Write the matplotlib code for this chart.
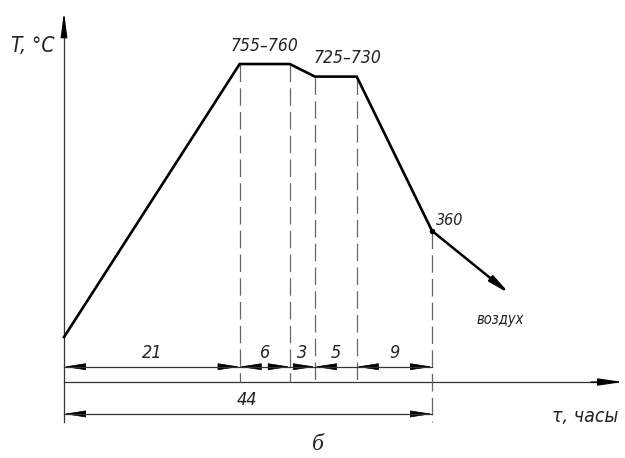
import matplotlib
matplotlib.use("Agg")
import matplotlib.pyplot as plt
from matplotlib.patches import FancyArrowPatch

# режим термообработки: время (ч) и температура (°C)
hours = [0, 21, 27, 30, 35, 44]
temps = [107, 757.5, 757.5, 727.5, 727.5, 360]
air_end = (53.3, 210)          # охлаждение на воздухе
stage_labels = ["21", "6", "3", "5", "9"]
stage_arrows = [(True, True), (True, True), (False, True), (True, False), (True, True)]
total_label = "44"
temp_labels = ["755–760", "725–730", "360"]

FONT = dict(family="DejaVu Sans", style="italic", fontstretch="condensed",
            fontweight="light", color="#222222")

fig = plt.figure(figsize=(6.25, 4.58), dpi=100)
ax = fig.add_axes([0, 0, 1, 1])
ax.set_xlim(-7.65, 67.07)
ax.set_ylim(-181, 910)
ax.axis("off")

thin = dict(color="#333333", lw=0.9)
dim_y, total_y, ext_bottom = 36.4, -76, -95


def head(x_tip, y, direction):
    # стрелка размерной линии
    L = 2.4
    p = FancyArrowPatch((x_tip - direction * L, y), (x_tip, y),
                        arrowstyle="-|>,head_length=14,head_width=2.2",
                        mutation_scale=1, color="black", lw=0.5,
                        shrinkA=0, shrinkB=0)
    ax.add_patch(p)


# оси
ax.plot([0, 0], [ext_bottom, 860], **thin)
ax.annotate("", xy=(0, 881), xytext=(0, 850),
            arrowprops=dict(arrowstyle="-|>,head_length=1.5,head_width=0.2",
                            color="black", lw=0.9, shrinkA=0, shrinkB=0))
ax.plot([0, 64], [0, 0], **thin)
ax.annotate("", xy=(66.8, 0), xytext=(63, 0),
            arrowprops=dict(arrowstyle="-|>,head_length=1.5,head_width=0.22",
                            color="black", lw=0.9, shrinkA=0, shrinkB=0))

# выносные линии
for h, t in zip(hours[1:], temps[1:]):
    bottom = ext_bottom if h == hours[-1] else 0
    ax.plot([h, h], [t, bottom], color="#666666", lw=0.9,
            dashes=(14, 5))

# кривая режима
ax.plot(hours, temps, color="black", lw=1.9, solid_joinstyle="miter")
ax.annotate("", xy=air_end, xytext=(hours[-1], temps[-1]),
            arrowprops=dict(arrowstyle="-|>,head_length=1.2,head_width=0.2",
                            color="black", lw=1.8, shrinkA=0, shrinkB=0))
ax.plot(hours[-1], temps[-1], "o", color="black", ms=3)

# размерные линии
ax.plot([hours[0], hours[-1]], [dim_y, dim_y], **thin)
ax.plot([hours[0], hours[-1]], [total_y, total_y], **thin)
for i, lab in enumerate(stage_labels):
    a, b = hours[i], hours[i + 1]
    left, right = stage_arrows[i]
    if left:
        head(a, dim_y, -1)
    if right:
        head(b, dim_y, 1)
    ax.text((a + b) / 2, dim_y + 12, lab, ha="center", va="bottom",
            fontsize=13, **FONT)
head(hours[0], total_y, -1)
head(hours[-1], total_y, 1)
ax.text(21.9, total_y + 12, total_label, ha="center", va="bottom",
        fontsize=13, **FONT)

# подписи температур
ax.text(3 + hours[1], temps[1] + 22, temp_labels[0], ha="center",
        va="bottom", fontsize=12.5, **FONT)
ax.text(33.9, temps[3] + 22, temp_labels[1], ha="center", va="bottom",
        fontsize=12.5, **FONT)
ax.text(hours[-1] + 0.5, temps[-1] + 8, temp_labels[2], ha="left",
        va="bottom", fontsize=11.5, **FONT)
ax.text(52.1, 148, "воздух", ha="center", va="center", fontsize=10.5, **FONT)

# подписи осей
ax.text(-6.3, 800, "T, °C", ha="left", va="center", fontsize=15, **FONT)
ax.text(62.3, -83, "τ, часы", ha="center", va="center", fontsize=14, **FONT)
ax.text(30.3, -148, "б", ha="center", va="center", fontsize=17,
        family="Liberation Serif", style="italic", color="#222222")

fig.savefig("out.png", dpi=100)
